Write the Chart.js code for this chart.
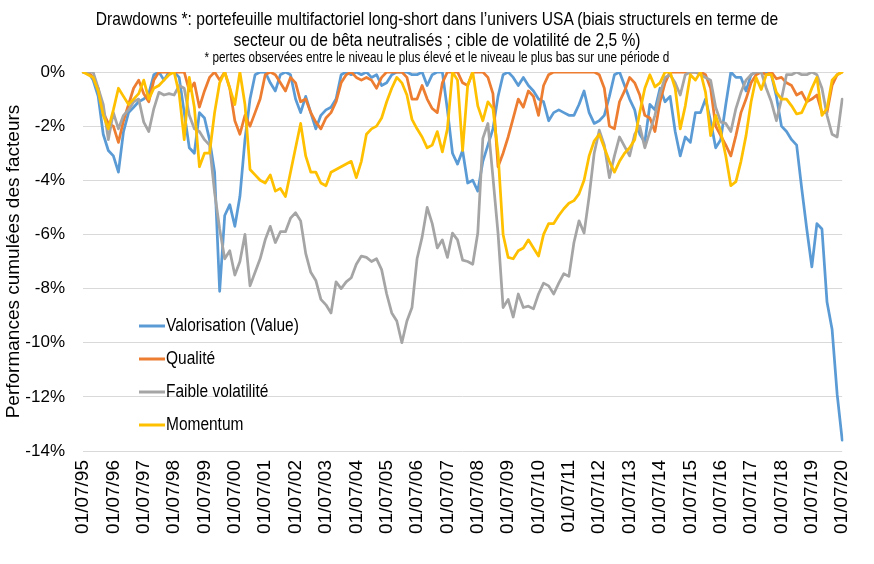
<!DOCTYPE html>
<html>
<head>
<meta charset="utf-8">
<title>Drawdowns multifactoriel USA</title>
<script src="https://cdn.jsdelivr.net/npm/chart.js@4.4.1/dist/chart.umd.min.js"></script>
<style>
  html, body { margin: 0; padding: 0; background: #fff; }
  #wrap { position: relative; width: 874px; height: 564px; }
  #chart { position: absolute; left: 0; top: 0; }
  /* Arial Narrow look: no narrow face installed, so squeeze a normal one */
  .title {
    position: absolute; left: 0; width: 874px; text-align: center; color: #000;
    font-family: 'Liberation Sans', Arial, sans-serif;
    white-space: nowrap; line-height: 1;
    transform-origin: 50% 0;
  }
  #t1 { top: 9px; font-size: 19px; transform: scaleX(0.82); }
  #t2 { top: 30px; font-size: 19px; transform: scaleX(0.82); }
  #t3 { top: 50px; font-size: 14px; transform: scaleX(0.84); }
</style>
</head>
<body>
<div id="wrap">
  <canvas id="chart" width="874" height="564"></canvas>
  <div class="title" id="t1">Drawdowns *: portefeuille multifactoriel long-short dans l’univers USA (biais structurels en terme de</div>
  <div class="title" id="t2">secteur ou de bêta neutralisés ; cible de volatilité de 2,5 %)</div>
  <div class="title" id="t3">* pertes observées entre le niveau le plus élevé et le niveau le plus bas sur une période d</div>
</div>
<script>
// DATA - drawdowns in %, one point every two months from 01/07/95 to 01/07/20
const years = ['95','96','97','98','99','00','01','02','03','04','05','06','07','08','09','10','11','12','13','14','15','16','17','18','19','20'];
const months = ['07','09','11','01','03','05'];

const valueDD = [
  0, 0, -0.3, -0.9, -2.3, -2.9,
  -3.1, -3.7, -2.2, -1.5, -1.3, -1.1,
  -1.0, -0.8, -0.1, 0, -0.3, 0,
  0, -0.2, -1.5, -2.8, -3.0, -1.5,
  -1.7, -2.5, -3.7, -8.1, -5.3, -4.9,
  -5.7, -4.6, -2.5, -1.0, -0.1, 0,
  0, -0.4, -0.7, -0.1, 0, -0.1,
  -1.0, -1.5, -0.9, -1.5, -2.1, -1.6,
  -1.4, -1.3, -1.0, -0.1, 0, -0.1,
  0, -0.1, 0, -0.2, -0.1, -0.5,
  -0.4, -0.1, 0, 0, 0, -0.1,
  -0.1, 0, -0.5, -0.1, 0, 0,
  -1.4, -3.0, -3.4, -2.9, -4.1, -4.0,
  -4.4, -3.3, -2.7, -2.1, -0.9, -0.1,
  0, -0.2, -0.5, -0.2, -0.5, -0.7,
  -1.0, -1.1, -1.8, -1.5, -1.4, -1.5,
  -1.6, -1.6, -1.2, -0.7, -1.5, -1.9,
  -1.8, -1.6, -0.9, -0.1, 0, -0.5,
  -1.0, -1.4, -2.3, -2.6, -1.2, -1.4,
  -0.6, -1.1, -0.9, -2.2, -3.1, -2.4,
  -2.6, -1.5, -1.5, -1.0, -1.8, -2.8,
  -2.5, -1.2, 0, -0.2, -0.2, -0.7,
  -0.1, 0, 0, 0, -0.1, -0.9,
  -2.0, -2.2, -2.5, -2.7, -4.3, -5.8,
  -7.2, -5.6, -5.8, -8.5, -9.5, -11.9,
  -13.6
];

const qualityDD = [
  0, 0, -0.2, -0.6, -1.5, -1.9,
  -2.0, -2.6, -1.8, -1.2, -0.6, -0.3,
  -0.8, -1.1, -0.3, 0, 0, 0,
  0, 0, 0, -0.7, -0.4, -1.3,
  -0.7, -0.2, 0, -0.3, 0, -0.6,
  -1.8, -2.3, -1.6, -2.0, -1.5, -1.0,
  -0.1, 0, -0.1, -0.4, -0.7, -0.2,
  -0.4, -1.1, -1.0, -1.5, -1.85, -2.1,
  -1.7, -1.5, -1.1, -0.4, -0.1, 0,
  -0.2, -0.3, -0.2, -0.3, -0.6, -0.2,
  0, 0, 0, 0, -0.2, -1.0,
  -1.0, -0.5, -1.0, -1.35, -1.5, -0.4,
  0, 0, 0, -0.4, -0.5, 0,
  0, 0, -0.2, -0.8, -3.5, -3.0,
  -2.4, -1.7, -1.0, -1.3, -0.7, -0.9,
  -1.6, -0.5, -0.1, 0, 0, 0,
  0, 0, 0, 0, 0, 0,
  -0.1, -0.6, -2.0, -2.1, -1.1, -0.7,
  -0.2, -0.4, -0.85, -1.6, -1.7, -2.2,
  -1.1, -0.4, 0, 0, 0, 0,
  0, 0, 0, -0.1, -0.6, -2.0,
  -2.35, -2.7, -3.1, -2.35, -1.5, -1.0,
  -0.4, -0.1, 0, -0.1, 0, -0.25,
  -0.2, -0.4, -0.5, -0.85, -0.75, -1.1,
  -1.0, -0.85, -1.5, -1.5, -0.5, -0.1,
  0
];

const lowVolDD = [
  0, 0, 0, -0.6, -1.2, -2.5,
  -1.5, -2.1, -1.6, -1.4, -1.1, -1.0,
  -1.85, -2.2, -1.35, -0.75, -0.85, -0.8,
  -0.85, -0.5, -0.6, -1.6, -2.1, -2.2,
  -2.5, -2.7, -4.45, -5.8, -6.9, -6.6,
  -7.5, -7.0, -6.0, -7.9, -7.4, -6.9,
  -6.2, -5.7, -6.3, -5.9, -5.9, -5.4,
  -5.2, -5.5, -6.7, -7.4, -7.7, -8.4,
  -8.6, -8.9, -7.75, -8.0, -7.75, -7.6,
  -7.1, -6.8, -6.85, -7.0, -6.9, -7.3,
  -8.2, -8.9, -9.2, -10.0, -9.2, -8.7,
  -6.9, -6.1, -5.0, -5.6, -6.5, -6.2,
  -6.85, -5.95, -6.2, -6.95, -7.0, -7.1,
  -5.95, -2.45, -1.9, -3.9, -5.95, -8.7,
  -8.4, -9.05, -8.2, -8.7, -8.65, -8.75,
  -8.2, -7.8, -7.9, -8.2, -7.8, -7.45,
  -7.55, -6.3, -5.5, -5.95, -4.6, -3.0,
  -2.15, -2.7, -3.9, -3.1, -2.4, -2.75,
  -3.1, -2.3, -2.0, -2.8, -2.2, -1.6,
  -0.8, -0.2, -0.1, -0.4, -0.85, -0.1,
  0, 0, -0.1, -0.2, -0.3, -1.3,
  -1.85, -1.9, -2.2, -1.35, -0.75, -0.3,
  -0.1, 0, 0, -0.6, -1.1, -1.8,
  -1.0, -0.1, -0.1, 0, -0.1, -0.1,
  0, -0.1, -0.6, -1.6, -2.3, -2.4,
  -1.0
];

const momentumDD = [
  0, -0.1, -0.2, -0.7, -1.6, -2.1,
  -1.4, -0.6, -0.9, -1.2, -1.0, -0.8,
  -0.3, -1.0, -0.6, -0.5, -0.3, -0.1,
  0, -0.8, -2.5, -0.2, -1.3, -3.5,
  -3.0, -3.0, -1.5, -0.4, 0, -0.6,
  -1.2, 0, -1.2, -3.6, -3.8, -4.0,
  -4.1, -3.8, -4.4, -4.3, -4.6, -3.7,
  -2.8, -1.9, -3.1, -3.7, -3.7, -4.1,
  -4.2, -3.7, -3.6, -3.5, -3.4, -3.3,
  -3.9, -3.3, -2.3, -2.1, -2.0, -1.7,
  -1.1, -0.6, -0.2, -0.4, -0.85, -1.75,
  -2.1, -2.4, -2.8, -2.7, -2.2, -2.95,
  -2.1, 0, -0.3, -2.9, -0.5, 0,
  -1.25, -1.8, -1.1, -1.35, -3.0, -6.0,
  -6.85, -6.9, -6.6, -6.5, -6.2, -6.5,
  -6.8, -6.0, -5.6, -5.6, -5.3, -5.05,
  -4.85, -4.75, -4.5, -4.0, -3.1, -2.55,
  -2.3, -2.8, -3.3, -3.7, -3.3, -3.0,
  -2.8, -2.5, -1.5, -0.6, -0.1, -0.55,
  -0.4, 0, 0, -0.6, -2.1, -1.25,
  -0.1, -0.3, 0, -0.75, -2.35, -1.6,
  -2.2, -3.1, -4.2, -4.05, -3.3, -2.35,
  -1.1, -0.2, -0.65, -0.1, -0.1, -0.75,
  -1.0, -1.0, -1.25, -1.55, -1.5, -1.1,
  -0.6, -0.2, -1.6, -1.35, -0.3, -0.1,
  0
];

const seriesNames = ['Valorisation (Value)', 'Qualité', 'Faible volatilité', 'Momentum'];
const seriesColors = ['#5B9BD5', '#ED7D31', '#A5A5A5', '#FFC000'];
const seriesData = [valueDD, qualityDD, lowVolDD, momentumDD];

// date labels dd/mm/yy, every two months
const labels = [];
years.forEach((y, i) => {
  months.forEach((m, j) => {
    const yy = j < 3 ? y : years[i + 1];
    if (yy !== undefined && labels.length < valueDD.length) labels.push('01/' + m + '/' + yy);
  });
});

const sans = "'Liberation Sans', Arial, sans-serif";

// legend drawn inside the plot, bottom-left, like the original
const insideLegend = {
  id: 'insideLegend',
  afterDatasetsDraw(chart) {
    const { ctx, chartArea } = chart;
    const x0 = chartArea.left + 56;
    const y0 = chartArea.top + 254;
    const squeeze = 0.86;
    ctx.save();
    ctx.font = '18px ' + sans;
    ctx.textBaseline = 'middle';
    seriesNames.forEach((name, i) => {
      const y = y0 + i * 33;
      ctx.strokeStyle = seriesColors[i];
      ctx.lineWidth = 3;
      ctx.beginPath();
      ctx.moveTo(x0, y);
      ctx.lineTo(x0 + 26, y);
      ctx.stroke();
      ctx.save();
      ctx.translate(x0 + 27, y);
      ctx.scale(squeeze, 1);
      ctx.fillStyle = '#000';
      ctx.fillText(name, 0, 0);
      ctx.restore();
    });
    ctx.restore();
  }
};

new Chart(document.getElementById('chart'), {
  type: 'line',
  data: {
    labels: labels,
    datasets: seriesData.map((d, i) => ({
      label: seriesNames[i],
      data: d,
      borderColor: seriesColors[i],
      backgroundColor: seriesColors[i],
      borderWidth: 2.75,
      pointRadius: 0,
      tension: 0,
      borderJoinStyle: 'round',
      borderCapStyle: 'round',
      order: 4 - i   // momentum on top, value at the bottom
    }))
  },
  options: {
    responsive: false,
    animation: false,
    layout: { padding: { top: 72, right: 12, left: 0, bottom: 0 } },
    plugins: {
      legend: { display: false },
      tooltip: { enabled: false }
    },
    scales: {
      x: {
        grid: { display: false, drawTicks: false },
        border: { display: false },
        ticks: {
          autoSkip: false,
          minRotation: 90,
          maxRotation: 90,
          padding: 9,
          color: '#000',
          font: { family: sans, size: 19 },
          callback: function (val, idx) {
            return idx % 6 === 0 ? this.getLabelForValue(val) : null;
          }
        },
        afterFit: (scale) => { scale.height = 113; }
      },
      y: {
        min: -14,
        max: 0,
        grid: { color: '#D9D9D9', lineWidth: 1, drawTicks: false },
        border: { display: false },
        ticks: {
          stepSize: 2,
          padding: 18,
          color: '#000',
          font: { family: sans, size: 17 },
          callback: (v) => v + '%'
        },
        title: {
          display: true,
          text: 'Performances cumulées des facteurs',
          color: '#000',
          font: { family: sans, size: 19 },
          padding: { top: 2, bottom: 2 }
        },
        afterFit: (scale) => { scale.width = 83; }
      }
    }
  },
  plugins: [insideLegend]
});
</script>
</body>
</html>
